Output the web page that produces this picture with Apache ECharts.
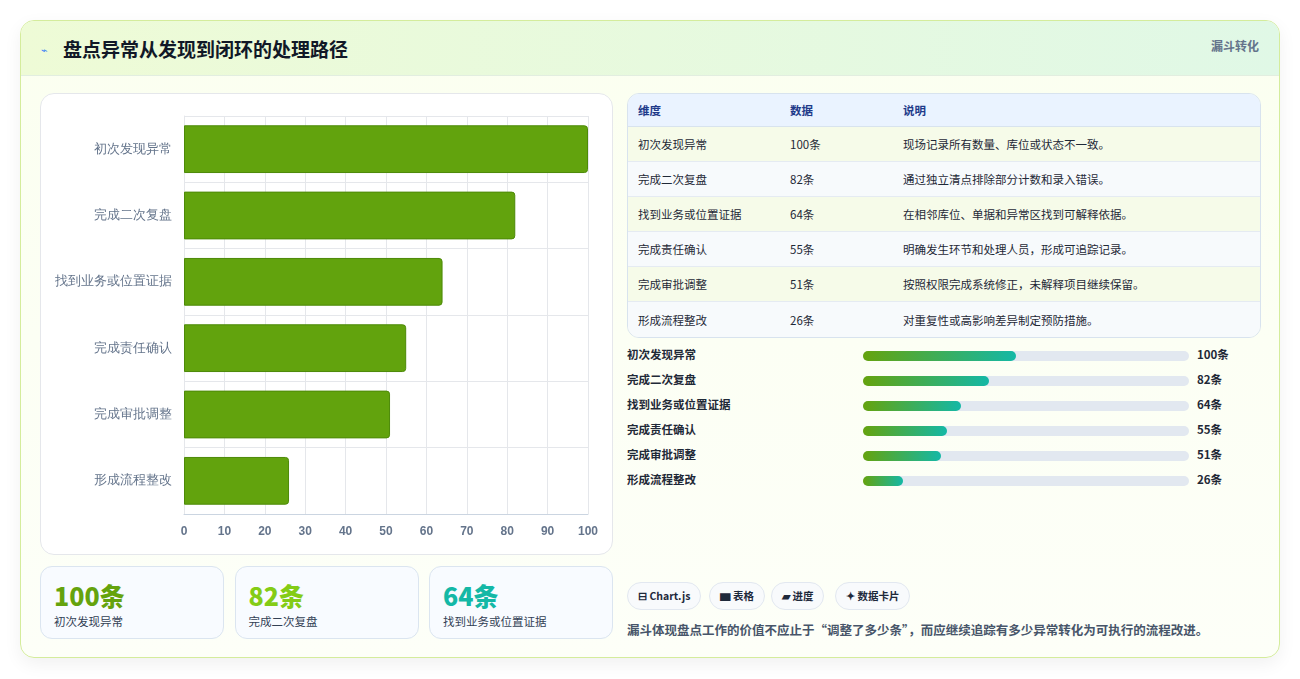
<!DOCTYPE html>
<html><head><meta charset="utf-8">
<script src="https://cdn.jsdelivr.net/npm/echarts@6/dist/echarts.min.js"></script>
<style>
*{box-sizing:border-box;margin:0;padding:0}
body{width:1300px;height:679px;background:#fff;font-family:"Noto Sans CJK SC","Noto Sans",sans-serif;color:#1e293b;position:relative;overflow:hidden}
.card{position:absolute;left:20px;top:20px;width:1260px;height:638px;border:1px solid #d4ec9c;border-radius:14px;background:linear-gradient(180deg,#fbfff0,#fdfff8);box-shadow:0 6px 18px rgba(0,0,0,0.06);overflow:hidden}
.head{height:55px;background:linear-gradient(90deg,#eefbd6,#e0f8e6);border-bottom:1px solid #e2eee0;position:relative}
.head h1{position:absolute;left:42px;top:14px;font-size:19px;font-weight:700;color:#111827}
.head .ic{position:absolute;left:20px;top:20px;font-size:11px;color:#3b82f6}
.head .tag{position:absolute;right:20px;top:16px;font-size:12px;font-weight:700;color:#64748b}
.panel{position:absolute;left:19px;top:72px;width:573px;height:462px;background:#fff;border:1px solid #e5e7eb;border-radius:14px}
#chart{position:absolute;left:0;top:0;width:573px;height:462px}
.stat{position:absolute;top:545px;width:184px;height:73px;border:1px solid #dbe5f0;border-radius:12px;background:#f8fbff}
.stat b{position:absolute;left:13px;top:10px;font-size:25px;font-weight:800}
.stat span{position:absolute;left:13px;top:46px;font-size:11.5px;color:#334155}
table{position:absolute;left:606px;top:72px;width:634px;border-collapse:separate;border-spacing:0;border:1px solid #d8e3ee;border-radius:12px;overflow:hidden;font-size:11.5px}
th{background:#eaf3ff;color:#1e3a8a;font-weight:700;text-align:left;height:33px;padding-left:10px;border-bottom:1px solid #d8e3ee}
td{height:35px;padding-left:10px;border-bottom:1px solid #e5ebf2;color:#1f2937}
tr:last-child td{border-bottom:none}
tr.o td{background:#f6fbe9}tr.e td{background:#f7fafc}
.pr{position:absolute;left:606px;width:640px;height:20px;font-size:11.5px;font-weight:700;color:#1f2937}
.pr .l{position:absolute;left:0;top:0}
.pr .t{position:absolute;left:236px;top:5px;width:326px;height:10px;border-radius:5px;background:#e2e8f0}
.pr .f{height:10px;border-radius:5px;background:linear-gradient(90deg,#65a30d,#14b8a6)}
.pr .v{position:absolute;left:570px;top:0}
.badge{position:absolute;top:561px;height:28px;border:1px solid #e2e8f0;border-radius:14px;background:#f8fafc;font-size:10.5px;font-weight:700;color:#1e293b;line-height:26px;padding:0 10px}
.note{position:absolute;left:606px;top:599px;font-size:12.5px;font-weight:600;color:#475569}
</style></head><body>
<div class="card">
 <div class="head"><span class="ic">⌁</span><h1>盘点异常从发现到闭环的处理路径</h1><span class="tag">漏斗转化</span></div>
 <div class="panel"><div id="chart"></div></div>
 <div id="stats"></div>
 <table id="tbl"></table>
 <div id="prog"></div>
 <div class="badge" style="left:606px">⊟ Chart.js</div>
 <div class="badge" style="left:688px">▆ 表格</div>
 <div class="badge" style="left:750px">▰ 进度</div>
 <div class="badge" style="left:814px">✦ 数据卡片</div>
 <div class="note">漏斗体现盘点工作的价值不应止于“调整了多少条”，而应继续追踪有多少异常转化为可执行的流程改进。</div>
</div>
<script>
const categories=["初次发现异常","完成二次复盘","找到业务或位置证据","完成责任确认","完成审批调整","形成流程整改"];
const values=[100,82,64,55,51,26];
const notes=["现场记录所有数量、库位或状态不一致。","通过独立清点排除部分计数和录入错误。","在相邻库位、单据和异常区找到可解释依据。","明确发生环节和处理人员，形成可追踪记录。","按照权限完成系统修正，未解释项目继续保留。","对重复性或高影响差异制定预防措施。"];
const unit="条";
const statColors=["#65a30d","#84cc16","#14b8a6"];

let s="";[0,1,2].forEach(i=>{s+=`<div class="stat" style="left:${19+i*194.5}px"><b style="color:${statColors[i]}">${values[i]}${unit}</b><span>${categories[i]}</span></div>`});
document.getElementById('stats').innerHTML=s;
let t=`<tr><th style="width:152px">维度</th><th style="width:113px">数据</th><th>说明</th></tr>`;
categories.forEach((c,i)=>{t+=`<tr class="${i%2?'e':'o'}"><td>${c}</td><td>${values[i]}${unit}</td><td>${notes[i]}</td></tr>`});
document.getElementById('tbl').innerHTML=t;
let p="";categories.forEach((c,i)=>{p+=`<div class="pr" style="top:${325+i*25}px"><span class="l">${c}</span><div class="t"><div class="f" style="width:${values[i]*0.47}%"></div></div><span class="v">${values[i]}${unit}</span></div>`});
document.getElementById('prog').innerHTML=p;

const ch=echarts.init(document.getElementById('chart'));
ch.setOption({animation:false,
 grid:{left:143,right:26,top:22,bottom:42},
 xAxis:{type:'value',min:0,max:100,interval:10,axisLine:{show:true,lineStyle:{color:'#cbd5e1'}},axisTick:{show:false},
  axisLabel:{color:'#64748b',fontSize:12,fontWeight:'bold',margin:12},splitLine:{lineStyle:{color:'#e5e7eb'}}},
 yAxis:{type:'category',data:categories,inverse:true,axisLine:{show:true,lineStyle:{color:'#e5e7eb'}},axisTick:{show:false},
  axisLabel:{color:'#64748b',fontSize:12.5,margin:12},splitLine:{show:true,lineStyle:{color:'#e5e7eb'}}},
 series:[{type:'bar',data:values,barWidth:'72%',itemStyle:{color:'#62a30d',borderColor:'#4d8a08',borderWidth:1,borderRadius:[0,3,3,0]}}]
});
</script>
</body></html>
